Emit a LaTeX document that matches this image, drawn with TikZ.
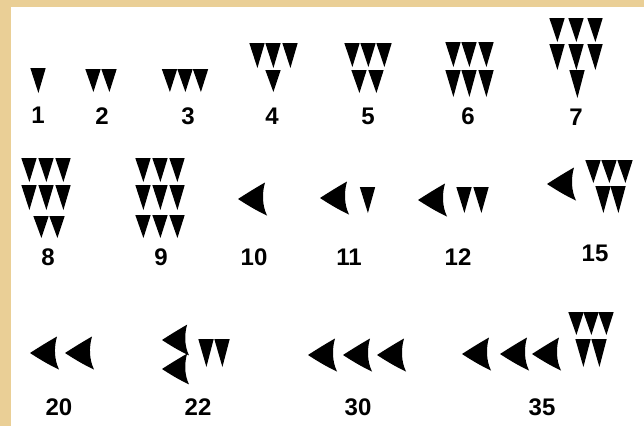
\documentclass[tikz,border=0pt]{standalone}
\usepackage{fontspec}
\setmainfont{Liberation Sans}
\usetikzlibrary{positioning}
\definecolor{parchment}{RGB}{234,207,150}

\begin{document}
\begin{tikzpicture}[
    x=1pt, y=-1pt,
    numeral/.style={inner sep=0pt, font=\fontsize{24}{24}\selectfont\bfseries},
    pics/wedge/.style={code={\fill (-7.7,0) -- (7.7,0) -- (0.4,#1) -- cycle;}},
    pics/wedge/.default=24,
    pics/corner/.style={code={\fill (0,0) .. controls (9,-5.8) and (18,-11.4) .. (27,-16.5)
        .. controls (24,-6) and (24,6) .. (29,16.5)
        .. controls (18,11.4) and (9,5.8) .. (0,0) -- cycle;}}
]
\useasboundingbox (0,0) rectangle (644,426);
\fill[parchment] (0,0) rectangle (644,426);
\fill[white] (11,7) rectangle (644,426);

% first row
\pic at (38,68) {wedge=25};
\foreach \x in {93,109} \pic at (\x,69) {wedge=23};
\foreach \x in {169.5,185,200.5} \pic at (\x,69) {wedge=23};
\foreach \x in {257,273,290} \pic at (\x,43) {wedge=25};
\pic at (273,70) {wedge=22};
\foreach \x in {352,368,384} \pic at (\x,43) {wedge=24};
\foreach \x in {359,376} \pic at (\x,70) {wedge=23};
\foreach \x in {453,469,486} {
  \pic at (\x,42) {wedge=25};
  \pic at (\x,70) {wedge=27};
}
\foreach \x in {557,576,595} {
  \pic at (\x,18) {wedge=24};
  \pic at (\x,44) {wedge=26};
}
\pic at (577,70) {wedge=28};

\node[numeral] (n1) at (38,115) {1};
\node[numeral] (n2) at (102,116) {2};
\node[numeral] (n3) at (188,116) {3};
\node[numeral] (n4) at (272,116) {4};
\node[numeral] (n5) at (368,116) {5};
\node[numeral] (n6) at (468,116) {6};
\node[numeral] (n7) at (576,117) {7};

% second row
\foreach \x in {29,46,63} {
  \pic at (\x,158) {wedge=24};
  \pic at (\x,185) {wedge=25};
}
\foreach \x in {41,57} \pic at (\x,216) {wedge=22};
\foreach \x in {143,160,177} {
  \pic at (\x,158) {wedge=24};
  \pic at (\x,185) {wedge=25};
  \pic at (\x,215) {wedge=23};
}
\pic at (238,199) {corner};
\pic at (320,198) {corner};
\pic at (367.5,187) {wedge=26};
\pic at (418,200) {corner};
\foreach \x in {464,481} \pic at (\x,187) {wedge=26};
\pic at (547,184) {corner};
\foreach \x in {593,609,625} \pic at (\x,160) {wedge=23};
\foreach \x in {603,618} \pic at (\x,186) {wedge=27};

\node[numeral] (n8) at (48,257) {8};
\node[numeral] (n9) at (161,257) {9};
\node[numeral] (n10) at (254,257) {10};
\node[numeral] (n11) at (349,257) {11};
\node[numeral] (n12) at (458,257) {12};
\node[numeral] (n15) at (595,253) {15};

% third row
\foreach \x in {30,65} \pic at (\x,353) {corner};
\foreach \y in {340,369} \pic[scale=0.93] at (162,\y) {corner};
\foreach \x in {206,222} \pic at (\x,339) {wedge=28};
\foreach \x in {308,343,377} \pic at (\x,355) {corner};
\foreach \x in {462,500,532} \pic at (\x,354) {corner};
\foreach \x in {576,591,606} \pic at (\x,312) {wedge=23};
\foreach \x in {583,599} \pic at (\x,339) {wedge=28};

\node[numeral] (n20) at (59,407) {20};
\node[numeral] (n22) at (198,407) {22};
\node[numeral] (n30) at (358,407) {30};
\node[numeral] (n35) at (542,407) {35};
\end{tikzpicture}
\end{document}
